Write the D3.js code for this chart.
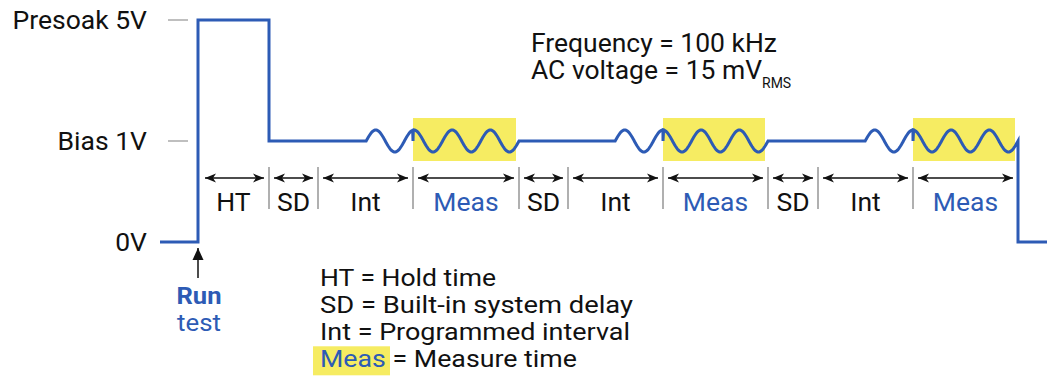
<!DOCTYPE html>
<html><head><meta charset="utf-8">
<script src="https://cdn.jsdelivr.net/npm/d3@7"></script>
<style>
html,body{margin:0;padding:0;background:#fff;}
svg{display:block;font-family:Roboto, "Noto Sans", sans-serif;}
</style></head>
<body>
<svg id="c" width="1047" height="377"></svg>
<script>
// ---- data ----
const levelNames  = ["0V", "Bias 1V", "Presoak 5V"];
const levelValues = [0, 1, 5];
const phaseNames     = ["HT","SD","Int","Meas","SD","Int","Meas","SD","Int","Meas"];
const phaseDurations = [71, 49, 95, 106, 49, 95, 105, 50, 95, 105];
const phaseLevels    = [5, 1, 1, 1, 1, 1, 1, 1, 1, 1];
const preRun  = 38;   // time at 0V before "Run test"
const postRun = 29;   // time at 0V after last Meas
const acCyclesPerMeasure = 4;
const acPeriod = 38.2;
const infoLines = ["Frequency = 100 kHz", "AC voltage = 15 mV"];
const infoSub = "RMS";
const legendKeys  = ["HT", "SD", "Int", "Meas"];
const legendTexts = ["Hold time", "Built-in system delay", "Programmed interval", "Measure time"];
const runLabel = ["Run", "test"];

// ---- scales ----
const total = preRun + d3.sum(phaseDurations) + postRun;
const x = d3.scaleLinear().domain([0, total]).range([160, 1047]);
const y = d3.scaleLinear().domain([0, 1, 5]).range([242, 141, 20]);
const acAmpPx = 11;

const BLUE = "#2d5bb5", YEL = "#f6ec62", INK = "#111";
const svg = d3.select("#c");

// phase boundaries
let t = preRun;
const phases = phaseNames.map((n, i) => {
  const p = {name: n, t0: t, t1: t + phaseDurations[i], level: phaseLevels[i]};
  t += phaseDurations[i];
  return p;
});
const tEnd = t;

// level ticks and labels
const lv = svg.append("g");
levelValues.forEach((v, i) => {
  lv.append("line").attr("x1", 168).attr("x2", 188).attr("y1", y(v)).attr("y2", y(v))
    .attr("stroke", "#aaa").attr("stroke-width", 1.5);
  lv.append("text").attr("x", 147).attr("y", y(v)).attr("dy", "0.35em")
    .attr("text-anchor", "end").attr("font-size", 26.5).attr("fill", INK).text(levelNames[i]);
});

// highlight rectangles for Meas
const meas = phases.filter(p => p.name === "Meas");
svg.append("g").selectAll("rect").data(meas).join("rect")
  .attr("x", d => x(d.t0)).attr("width", d => x(d.t1) - x(d.t0) - 3)
  .attr("y", 118).attr("height", 43).attr("fill", YEL);

// waveform points in pixel space
const P = [[x(0), y(0)], [x(preRun), y(0)]];
phases.forEach((p, i) => {
  P.push([x(p.t0), y(p.level)]);
  if (p.name === "Meas") {
    const ws = p.t1 - acCyclesPerMeasure * acPeriod;
    P.push([x(ws), y(1)]);
    const n = 240;
    for (let k = 0; k <= n; k++) {
      const tt = ws + (p.t1 - ws) * k / n;
      P.push([x(tt), y(1) - acAmpPx * Math.sin(2 * Math.PI * (tt - ws) / acPeriod)]);
    }
  } else if (!(phases[i + 1] && phases[i + 1].name === "Meas")) {
    P.push([x(p.t1), y(p.level)]);
  }
});
const wave = P.slice().sort((a, b) => a[0] - b[0]);
wave.push([x(tEnd), y(0)], [x(total), y(0)]);

svg.append("path").attr("d", d3.line()(wave)).attr("fill", "none")
  .attr("stroke", BLUE).attr("stroke-width", 3).attr("stroke-linejoin", "miter");

// arrow markers
const defs = svg.append("defs");
defs.append("marker").attr("id", "ah").attr("viewBox", "0 -5 11 10")
  .attr("refX", 11).attr("refY", 0).attr("markerWidth", 11).attr("markerHeight", 10)
  .attr("markerUnits", "userSpaceOnUse").attr("orient", "auto-start-reverse")
  .append("path").attr("d", "M11,0 L0,-4.5 L3,0 L0,4.5 Z").attr("fill", INK);
defs.append("marker").attr("id", "ah2").attr("viewBox", "0 -6 12 12")
  .attr("refX", 12).attr("refY", 0).attr("markerWidth", 12).attr("markerHeight", 12)
  .attr("markerUnits", "userSpaceOnUse").attr("orient", "auto")
  .append("path").attr("d", "M12,0 L0,-5.5 L0,5.5 Z").attr("fill", INK);

// boundaries
const bounds = phases.slice(1).map(p => p.t0);
svg.append("g").selectAll("line").data(bounds).join("line")
  .attr("x1", d => x(d)).attr("x2", d => x(d)).attr("y1", 167).attr("y2", 209)
  .attr("stroke", "#a8a8a8").attr("stroke-width", 1.8);

// dimension arrows
const ag = svg.append("g");
phases.forEach((p, i) => {
  const x0 = x(p.t0) + (i === 0 ? 7 : 5), x1 = x(p.t1) - 5;
  ag.append("line").attr("x1", x0).attr("x2", x1).attr("y1", 178).attr("y2", 178)
    .attr("stroke", INK).attr("stroke-width", 1.3)
    .attr("marker-start", "url(#ah)").attr("marker-end", "url(#ah)");
  ag.append("text").attr("x", (x(p.t0) + x(p.t1)) / 2).attr("y", 211)
    .attr("text-anchor", "middle").attr("font-size", 26.5)
    .attr("fill", p.name === "Meas" ? BLUE : INK).text(p.name);
});

// Run test arrow + label
const xr = x(preRun);
svg.append("line").attr("x1", xr).attr("x2", xr).attr("y1", 278).attr("y2", 248)
  .attr("stroke", INK).attr("stroke-width", 1.5).attr("marker-end", "url(#ah2)");
svg.append("text").attr("x", xr + 1).attr("y", 304).attr("text-anchor", "middle")
  .attr("font-size", 24.8).attr("font-weight", "bold").attr("fill", BLUE)
  .attr("textLength", 45).attr("lengthAdjust", "spacingAndGlyphs").text(runLabel[0]);
svg.append("text").attr("x", xr + 1).attr("y", 331).attr("text-anchor", "middle")
  .attr("font-size", 24.8).attr("fill", BLUE)
  .attr("textLength", 44).attr("lengthAdjust", "spacingAndGlyphs").text(runLabel[1]);

// info text
const it = svg.append("g").attr("font-size", 25).attr("fill", INK);
it.append("text").attr("x", 531).attr("y", 52).attr("textLength", 246)
  .attr("lengthAdjust", "spacingAndGlyphs").text(infoLines[0]);
const t2 = it.append("text").attr("x", 531).attr("y", 79);
t2.append("tspan").attr("textLength", 231).attr("lengthAdjust", "spacingAndGlyphs").text(infoLines[1]);
t2.append("tspan").attr("font-size", 14).attr("dy", 9).text(infoSub);

// legend
const legendWidths = [176, 313, 310, 257];
const lgY0 = 286.3, lgDy = 27;
const lg = svg.append("g").attr("font-size", 24.8);
legendKeys.forEach((k, i) => {
  const yy = lgY0 + i * lgDy;
  if (k === "Meas") {
    lg.append("rect").attr("x", 313).attr("y", yy - 21).attr("width", 77).attr("height", 29).attr("fill", YEL);
  }
  const tx = lg.append("text").attr("x", 320).attr("y", yy).attr("fill", INK)
    .attr("textLength", legendWidths[i]).attr("lengthAdjust", "spacingAndGlyphs");
  tx.append("tspan").attr("fill", k === "Meas" ? BLUE : INK).text(k);
  tx.append("tspan").text(" = " + legendTexts[i]);
});
</script>
</body></html>
